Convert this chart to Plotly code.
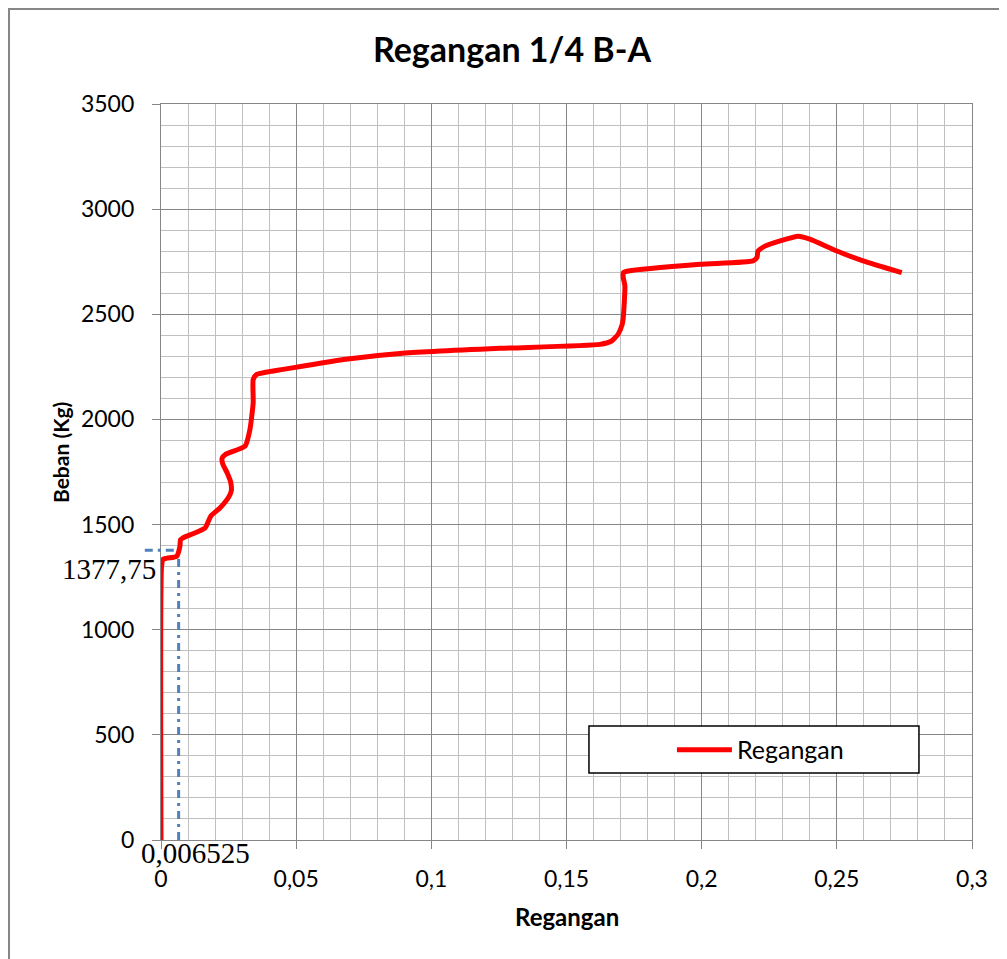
import plotly.graph_objects as go

# ---- data ----
regangan = [0, 0.0002, 0.0008, 0.0058, 0.0070, 0.0072, 0.0080, 0.0163, 0.0184, 0.0218,
            0.0250, 0.0260, 0.0258, 0.0245, 0.0228, 0.0226, 0.0240, 0.0311, 0.0329, 0.0341,
            0.0341, 0.0354, 0.0452, 0.0699, 0.0884, 0.1254, 0.1624, 0.1667, 0.1691,
            0.1706, 0.1710, 0.1716, 0.1710, 0.1710, 0.1729, 0.1994, 0.2190, 0.2205,
            0.2208, 0.2234, 0.2290, 0.2357, 0.2400, 0.2500, 0.2597, 0.2740]
beban = [0, 1300, 1335, 1349, 1397, 1428, 1436, 1484, 1540, 1579,
         1630, 1660, 1700, 1745, 1790, 1815, 1835, 1873, 1952, 2080,
         2190, 2214, 2238, 2289, 2314, 2338, 2357, 2373, 2405,
         2452, 2484, 2635, 2674, 2698, 2706, 2738, 2754, 2771,
         2800, 2824, 2849, 2871, 2857, 2801, 2754, 2698]
yield_strain = 0.006525
yield_load = 1377.75
x_range = [0, 0.3]
y_range = [0, 3500]
x_ticks = [0, 0.05, 0.1, 0.15, 0.2, 0.25, 0.3]
y_ticks = [0, 500, 1000, 1500, 2000, 2500, 3000, 3500]

FONT = "Lato"
MAJOR = "#868686"
MINOR = "#c0c0c0"
BLUE = "#4F81BD"
DASH = "8px,5px,3px,5px"

fig = go.Figure()
fig.add_trace(go.Scatter(
    x=[yield_strain, yield_strain], y=[0, yield_load], mode="lines",
    line=dict(color=BLUE, width=3, dash=DASH),
    showlegend=False, hoverinfo="skip"))
fig.add_trace(go.Scatter(
    x=regangan, y=beban, mode="lines", name="Regangan",
    line=dict(color="#FF0000", width=5, shape="spline", smoothing=0.5)))

def xp(v):
    return (v - x_range[0]) / (x_range[1] - x_range[0])

def yp(v):
    return (v - y_range[0]) / (y_range[1] - y_range[0])

shapes = [
    # horizontal dash-dot line at the yield load (extends slightly left of the axis)
    dict(type="line", xref="paper", yref="paper", x0=-0.02, x1=xp(yield_strain),
         y0=yp(yield_load), y1=yp(yield_load),
         line=dict(color=BLUE, width=3, dash=DASH)),
    # legend box
    dict(type="rect", xref="paper", yref="paper", x0=0.5277, x1=0.9346, y0=0.0910, y1=0.1549,
         line=dict(color="black", width=1.5), fillcolor="white", layer="above"),
    # outer chart border
    dict(type="rect", xref="paper", yref="paper", x0=-0.1874, x1=1.06, y0=-0.2, y1=1.1291,
         line=dict(color=MAJOR, width=2)),
]

annotations = [
    dict(text="<b>Regangan</b>", xref="paper", yref="paper", x=0.5, y=-0.1033,
         xanchor="center", yanchor="middle",
         showarrow=False, font=dict(family=FONT, size=24, color="black")),
    dict(text="<b>Beban (Kg)</b>", xref="paper", yref="paper", x=-0.1245, y=0.5258,
         xanchor="center", yanchor="middle",
         textangle=-90, showarrow=False, font=dict(family=FONT, size=21, color="black")),
    dict(text="1377,75", xref="paper", yref="y", x=0, y=yield_load, xanchor="right",
         xshift=-3, yshift=-19, showarrow=False,
         font=dict(family="Liberation Serif", size=29, color="black")),
    dict(text="0,006525", xref="paper", yref="y", x=0, y=0, xanchor="left",
         xshift=-22, yshift=-13, showarrow=False,
         font=dict(family="Liberation Serif", size=29, color="black")),
]

fig.update_layout(
    width=1007, height=959,
    margin=dict(l=153, r=43, t=96, b=127),
    paper_bgcolor="white", plot_bgcolor="white",
    separators=",.",
    title=dict(text="<b>Regangan 1/4 B-A</b>", x=0.5005, xanchor="center",
               y=1 - 42 / 959, yanchor="middle",
               font=dict(family=FONT, size=34, color="black")),
    shapes=shapes, annotations=annotations,
    showlegend=True,
    legend=dict(x=0.63, y=0.1223, xanchor="left", yanchor="middle",
                bgcolor="rgba(0,0,0,0)", borderwidth=0, itemwidth=55,
                font=dict(family=FONT, size=25, color="black")),
    xaxis=dict(range=x_range, tickvals=x_ticks, showgrid=True, gridcolor=MAJOR, gridwidth=1.3,
               minor=dict(dtick=0.01, showgrid=True, gridcolor=MINOR, gridwidth=1.3, ticks=""),
               zeroline=False, showline=True, linecolor=MAJOR, linewidth=1.3, mirror=True,
               ticks="outside", ticklen=8, tickcolor=MAJOR, tickwidth=1.3,
               ticklabelstandoff=10,
               tickfont=dict(family=FONT, size=23, color="black")),
    yaxis=dict(range=y_range, tickvals=y_ticks, showgrid=True, gridcolor=MAJOR, gridwidth=1.3,
               minor=dict(dtick=100, showgrid=True, gridcolor=MINOR, gridwidth=1.3, ticks=""),
               zeroline=False, showline=True, linecolor=MAJOR, linewidth=1.3, mirror=True,
               ticks="outside", ticklen=8, tickcolor=MAJOR, tickwidth=1.3,
               ticklabelstandoff=13,
               tickfont=dict(family=FONT, size=23, color="black")),
)

fig.write_html("out.html")
